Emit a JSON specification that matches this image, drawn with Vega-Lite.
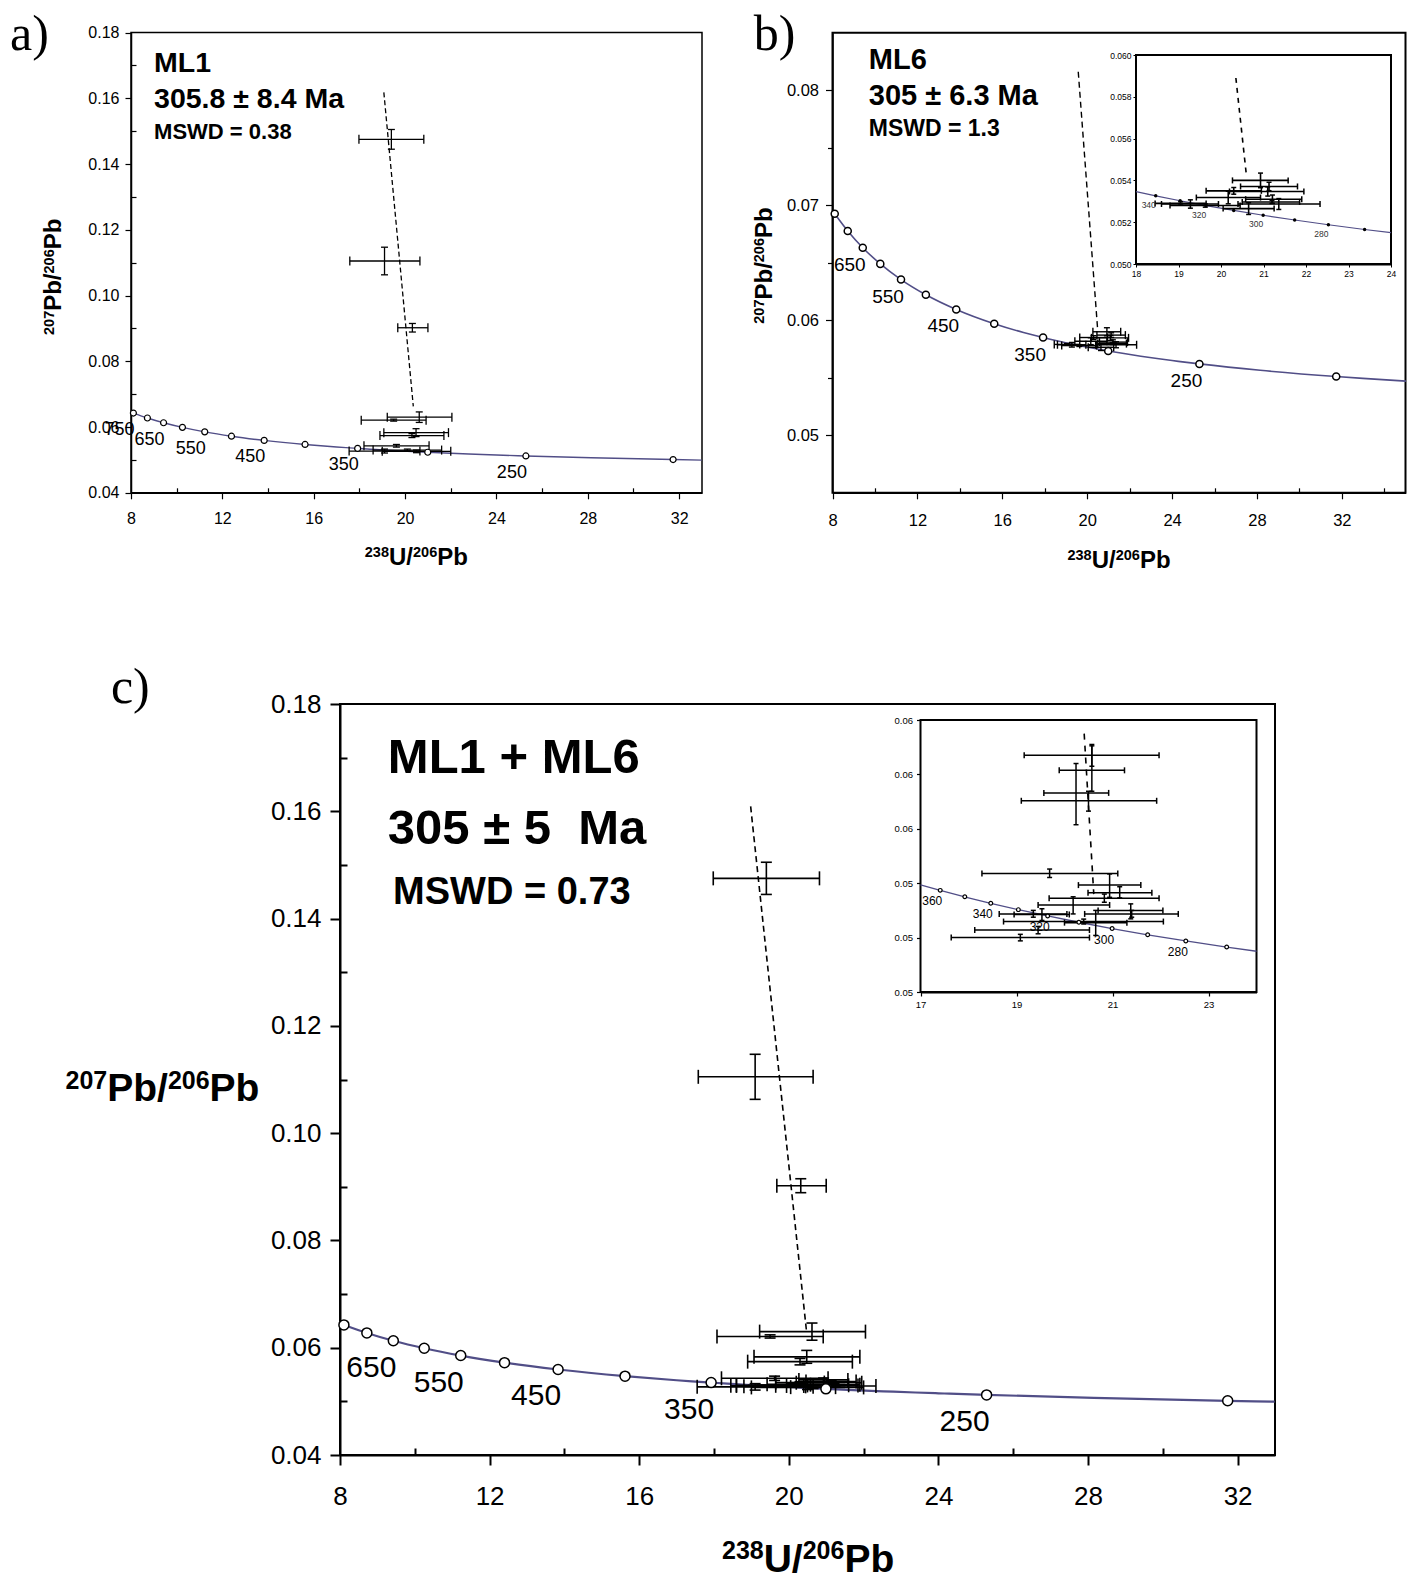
{
"$schema": "https://vega.github.io/schema/vega-lite/v6.json",
"width": 1415, "height": 1580,
"autosize": {"type": "none"},
"padding": 0,
"background": "white",
"config": {
  "view": {"stroke": null},
  "axis": {"grid": false, "domainColor": "black", "tickColor": "black", "labelColor": "black", "titleColor": "black",
           "labelFont": "Liberation Sans", "titleFont": "Liberation Sans", "titleFontWeight": "bold",
           "labelFlush": false, "labelOverlap": false, "labelBound": false}
},
"datasets": {
  "frames": [
    {"p": "a", "x0": 8, "x1": 33, "y0": 0.04, "y1": 0.18},
    {"p": "b", "x0": 8, "x1": 35, "y0": 0.04, "y1": 0.08},
    {"p": "bi", "x0": 18, "x1": 24, "y0": 0.05, "y1": 0.06},
    {"p": "c", "x0": 8, "x1": 33, "y0": 0.04, "y1": 0.18},
    {"p": "ci", "x0": 17, "x1": 24, "y0": 0.05, "y1": 0.06}
  ],
  "conc": [
    {"age": 750, "x": 8.1048, "y": 0.064253},
    {"age": 700, "x": 8.7182, "y": 0.062757},
    {"age": 650, "x": 9.4259, "y": 0.061307},
    {"age": 600, "x": 10.252, "y": 0.059901},
    {"age": 550, "x": 11.228, "y": 0.058539},
    {"age": 500, "x": 12.399, "y": 0.057219},
    {"age": 450, "x": 13.831, "y": 0.055941},
    {"age": 400, "x": 15.621, "y": 0.054700},
    {"age": 368.46, "x": 17.0, "y": 0.053937},
    {"age": 360, "x": 17.411, "y": 0.053737},
    {"age": 350, "x": 17.923, "y": 0.053499},
    {"age": 348.54, "x": 18.0, "y": 0.053464},
    {"age": 340, "x": 18.464, "y": 0.053262},
    {"age": 330, "x": 19.039, "y": 0.053028},
    {"age": 320, "x": 19.649, "y": 0.052795},
    {"age": 310, "x": 20.299, "y": 0.052564},
    {"age": 300, "x": 20.992, "y": 0.052333},
    {"age": 290, "x": 21.733, "y": 0.052104},
    {"age": 280, "x": 22.527, "y": 0.051877},
    {"age": 270, "x": 23.379, "y": 0.051651},
    {"age": 263.16, "x": 24.0, "y": 0.051498},
    {"age": 260, "x": 24.297, "y": 0.051427},
    {"age": 250, "x": 25.289, "y": 0.051205},
    {"age": 225, "x": 28.154, "y": 0.050651},
    {"age": 200, "x": 31.735, "y": 0.050107},
    {"age": 192.5, "x": 32.99, "y": 0.049946},
    {"age": 181.5, "x": 35.02, "y": 0.049711}
  ],
  "disc": [
    {"p": "a", "x": 19.07, "y": 0.1618}, {"p": "a", "x": 20.36, "y": 0.0663},
    {"p": "b", "x": 19.58, "y": 0.0766}, {"p": "b", "x": 20.49, "y": 0.0543},
    {"p": "bi", "x": 20.35, "y": 0.0589}, {"p": "bi", "x": 20.6, "y": 0.0542},
    {"p": "c", "x": 18.98, "y": 0.1609}, {"p": "c", "x": 20.47, "y": 0.0633},
    {"p": "ci", "x": 20.41, "y": 0.0595}, {"p": "ci", "x": 20.61, "y": 0.0536}
  ],
  "ml1": [
    {"x": 19.40, "y": 0.1475, "xlo": 17.98, "xhi": 20.82, "ylo": 0.1445, "yhi": 0.1505},
    {"x": 19.10, "y": 0.1105, "xlo": 17.58, "xhi": 20.65, "ylo": 0.1063, "yhi": 0.1147},
    {"x": 20.32, "y": 0.0902, "xlo": 19.68, "xhi": 21.00, "ylo": 0.0889, "yhi": 0.0915},
    {"x": 20.62, "y": 0.0630, "xlo": 19.22, "xhi": 22.05, "ylo": 0.0614, "yhi": 0.0646},
    {"x": 19.50, "y": 0.0621, "xlo": 18.08, "xhi": 20.92, "ylo": 0.0618, "yhi": 0.0624},
    {"x": 20.48, "y": 0.0583, "xlo": 19.07, "xhi": 21.90, "ylo": 0.0571, "yhi": 0.0595},
    {"x": 20.30, "y": 0.0574, "xlo": 18.90, "xhi": 21.70, "ylo": 0.0568, "yhi": 0.0580},
    {"x": 19.62, "y": 0.0543, "xlo": 18.20, "xhi": 21.05, "ylo": 0.0539, "yhi": 0.0547},
    {"x": 19.10, "y": 0.0527, "xlo": 17.55, "xhi": 20.65, "ylo": 0.0521, "yhi": 0.0533},
    {"x": 20.50, "y": 0.0526, "xlo": 19.00, "xhi": 22.00, "ylo": 0.0522, "yhi": 0.0530},
    {"x": 20.10, "y": 0.0530, "xlo": 18.60, "xhi": 21.60, "ylo": 0.0527, "yhi": 0.0533}
  ],
  "ml6": [
    {"x": 20.93, "y": 0.05400, "xlo": 20.27, "xhi": 21.58, "ylo": 0.05365, "yhi": 0.05435},
    {"x": 21.13, "y": 0.05371, "xlo": 20.46, "xhi": 21.80, "ylo": 0.05351, "yhi": 0.05391},
    {"x": 20.30, "y": 0.05350, "xlo": 19.65, "xhi": 20.95, "ylo": 0.05334, "yhi": 0.05366},
    {"x": 21.10, "y": 0.05347, "xlo": 20.20, "xhi": 21.95, "ylo": 0.05325, "yhi": 0.05369},
    {"x": 20.17, "y": 0.05318, "xlo": 19.42, "xhi": 20.93, "ylo": 0.05288, "yhi": 0.05348},
    {"x": 21.21, "y": 0.05310, "xlo": 20.58, "xhi": 21.90, "ylo": 0.05290, "yhi": 0.05330},
    {"x": 21.20, "y": 0.05297, "xlo": 20.50, "xhi": 21.85, "ylo": 0.05290, "yhi": 0.05304},
    {"x": 21.36, "y": 0.05287, "xlo": 20.40, "xhi": 22.33, "ylo": 0.05261, "yhi": 0.05313},
    {"x": 19.28, "y": 0.05287, "xlo": 18.60, "xhi": 19.94, "ylo": 0.05267, "yhi": 0.05307},
    {"x": 19.63, "y": 0.05280, "xlo": 18.80, "xhi": 20.45, "ylo": 0.05272, "yhi": 0.05288},
    {"x": 20.65, "y": 0.05265, "xlo": 20.05, "xhi": 21.25, "ylo": 0.05237, "yhi": 0.05293},
    {"x": 19.05, "y": 0.05290, "xlo": 18.45, "xhi": 19.65, "ylo": 0.05282, "yhi": 0.05298}
  ],
  "inc": [
    {"x": 20.57, "y": 0.05870, "xlo": 19.16, "xhi": 21.97, "ylo": 0.05830, "yhi": 0.05910},
    {"x": 20.57, "y": 0.05815, "xlo": 19.89, "xhi": 21.25, "ylo": 0.05738, "yhi": 0.05905},
    {"x": 20.24, "y": 0.05732, "xlo": 19.57, "xhi": 20.92, "ylo": 0.05615, "yhi": 0.05840},
    {"x": 20.50, "y": 0.05703, "xlo": 19.10, "xhi": 21.92, "ylo": 0.05665, "yhi": 0.05738},
    {"x": 19.69, "y": 0.05436, "xlo": 18.28, "xhi": 21.11, "ylo": 0.05421, "yhi": 0.05452},
    {"x": 20.94, "y": 0.05393, "xlo": 20.29, "xhi": 21.59, "ylo": 0.05348, "yhi": 0.05434},
    {"x": 21.15, "y": 0.05365, "xlo": 20.49, "xhi": 21.82, "ylo": 0.05346, "yhi": 0.05387},
    {"x": 20.83, "y": 0.05345, "xlo": 19.68, "xhi": 21.97, "ylo": 0.05330, "yhi": 0.05360},
    {"x": 20.18, "y": 0.05320, "xlo": 19.45, "xhi": 20.94, "ylo": 0.05287, "yhi": 0.05350},
    {"x": 21.38, "y": 0.05300, "xlo": 20.70, "xhi": 22.05, "ylo": 0.05269, "yhi": 0.05324},
    {"x": 21.40, "y": 0.05287, "xlo": 20.42, "xhi": 22.37, "ylo": 0.05275, "yhi": 0.05300},
    {"x": 19.35, "y": 0.05287, "xlo": 18.64, "xhi": 20.05, "ylo": 0.05275, "yhi": 0.05300},
    {"x": 19.53, "y": 0.05285, "xlo": 18.95, "xhi": 20.10, "ylo": 0.05263, "yhi": 0.05306},
    {"x": 20.40, "y": 0.05259, "xlo": 18.73, "xhi": 22.06, "ylo": 0.05250, "yhi": 0.05268},
    {"x": 19.45, "y": 0.05228, "xlo": 18.13, "xhi": 20.52, "ylo": 0.05214, "yhi": 0.05241},
    {"x": 19.08, "y": 0.05200, "xlo": 17.64, "xhi": 20.52, "ylo": 0.05188, "yhi": 0.05212},
    {"x": 20.65, "y": 0.05255, "xlo": 20.00, "xhi": 21.30, "ylo": 0.05208, "yhi": 0.05300}
  ],
  "notes": [
    {"p": "a", "k": "letter", "text": "a)", "x": 2.70, "y": 0.1791},
    {"p": "a", "k": "big", "text": "ML1", "x": 9.01, "y": 0.1706},
    {"p": "a", "k": "big", "text": "305.8 ± 8.4 Ma", "x": 9.01, "y": 0.1598},
    {"p": "a", "k": "small", "text": "MSWD = 0.38", "x": 9.01, "y": 0.1497},
    {"p": "b", "k": "letter", "text": "b)", "x": 4.29, "y": 0.07978},
    {"p": "b", "k": "big", "text": "ML6", "x": 9.71, "y": 0.07759},
    {"p": "b", "k": "big", "text": "305 ± 6.3 Ma", "x": 9.71, "y": 0.07452},
    {"p": "b", "k": "small", "text": "MSWD = 1.3", "x": 9.71, "y": 0.07163},
    {"p": "c", "k": "letter", "text": "c)", "x": 1.874, "y": 0.18293},
    {"p": "c", "k": "big", "text": "ML1 + ML6", "x": 9.28, "y": 0.16995},
    {"p": "c", "k": "big", "text": "305 ± 5\u00a0 Ma", "x": 9.28, "y": 0.15662},
    {"p": "c", "k": "small", "text": "MSWD = 0.73", "x": 9.42, "y": 0.14479}
  ],
  "ttl": [
    {"p": "a", "o": "h", "k": "sup", "text": "238", "x": 18.236, "y": 0.020474},
    {"p": "a", "o": "h", "k": "big", "text": "U/", "x": 19.296, "y": 0.018041},
    {"p": "a", "o": "h", "k": "sup", "text": "206", "x": 20.347, "y": 0.020474},
    {"p": "a", "o": "h", "k": "big", "text": "Pb", "x": 21.406, "y": 0.018041},
    {"p": "a", "o": "v", "k": "sup", "text": "207", "x": 4.607, "y": 0.087994},
    {"p": "a", "o": "v", "k": "big", "text": "Pb/", "x": 4.957, "y": 0.095355},
    {"p": "a", "o": "v", "k": "sup", "text": "206", "x": 4.607, "y": 0.106699},
    {"p": "a", "o": "v", "k": "big", "text": "Pb", "x": 4.957, "y": 0.114060},
    {"p": "b", "o": "h", "k": "sup", "text": "238", "x": 19.073, "y": 0.034158},
    {"p": "b", "o": "h", "k": "big", "text": "U/", "x": 20.214, "y": 0.033462},
    {"p": "b", "o": "h", "k": "sup", "text": "206", "x": 21.345, "y": 0.034158},
    {"p": "b", "o": "h", "k": "big", "text": "Pb", "x": 22.485, "y": 0.033462},
    {"p": "b", "o": "v", "k": "sup", "text": "207", "x": 4.772, "y": 0.054701},
    {"p": "b", "o": "v", "k": "big", "text": "Pb/", "x": 5.149, "y": 0.056805},
    {"p": "b", "o": "v", "k": "sup", "text": "206", "x": 4.772, "y": 0.060048},
    {"p": "b", "o": "v", "k": "big", "text": "Pb", "x": 5.149, "y": 0.062152},
    {"p": "c", "o": "h", "k": "sup", "text": "238", "x": 18.214, "y": 0.020612},
    {"p": "c", "o": "h", "k": "big", "text": "U/", "x": 19.329, "y": 0.018189},
    {"p": "c", "o": "h", "k": "sup", "text": "206", "x": 20.372, "y": 0.020612},
    {"p": "c", "o": "h", "k": "big", "text": "Pb", "x": 21.487, "y": 0.018189},
    {"p": "c", "o": "h", "k": "sup", "text": "207", "x": 0.660, "y": 0.108322},
    {"p": "c", "o": "h", "k": "big", "text": "Pb/", "x": 1.775, "y": 0.105899},
    {"p": "c", "o": "h", "k": "sup", "text": "206", "x": 3.398, "y": 0.108322},
    {"p": "c", "o": "h", "k": "big", "text": "Pb", "x": 4.513, "y": 0.105899}
  ]
},
"resolve": {"scale": {"x": "independent", "y": "independent"}, "axis": {"x": "independent", "y": "independent"}},
"layer": [
  {
    "resolve": {"axis": {"x": "independent", "y": "independent"}},
    "layer": [
      {"data": {"name": "frames"}, "transform": [{"filter": "datum.p == 'a'"}],
       "mark": {"type": "rect", "filled": false, "stroke": "black", "strokeWidth": 1.5},
       "encoding": {
         "x": {"field": "x0", "type": "quantitative", "scale": {"domain": [8, 33], "range": [131, 702], "nice": false, "zero": false},
               "axis": {"orient": "bottom", "offset": -1087.2, "values": [8,12,16,20,24,28,32],
                        "tickSize": 6, "tickWidth": 1.2, "domainWidth": 1.5, "labelFontSize": 16, "labelPadding": 12, "title": null}},
         "x2": {"field": "x1"},
         "y": {"field": "y0", "type": "quantitative", "scale": {"domain": [0.04, 0.18], "range": [492.8, 32.5], "nice": false, "zero": false},
               "axis": {"orient": "left", "offset": -131, "values": [0.04,0.06,0.08,0.1,0.12,0.14,0.16,0.18], "format": ".2f",
                        "tickSize": 6, "tickWidth": 1.2, "domainWidth": 1.5, "labelFontSize": 16, "labelPadding": 6, "title": null}},
         "y2": {"field": "y1"}}},
      {"data": {"name": "conc"}, "transform": [{"filter": "datum.age >= 192 && datum.age <= 750"}],
       "mark": {"type": "line", "color": "#514e87", "strokeWidth": 1.4, "interpolate": "monotone"},
       "encoding": {
         "x": {"field": "x", "type": "quantitative",
               "axis": {"orient": "bottom", "offset": -1092.2, "values": [10,14,18,22,26,30], "labels": false, "domain": false, "tickSize": 5, "tickWidth": 1.2, "title": null}},
         "y": {"field": "y", "type": "quantitative",
               "axis": {"orient": "left", "offset": -136, "values": [0.05,0.07,0.09,0.11,0.13,0.15,0.17], "labels": false, "domain": false, "tickSize": 5, "tickWidth": 1.2, "title": null}}}},
      {"data": {"name": "disc"}, "transform": [{"filter": "datum.p == 'a'"}],
       "mark": {"type": "line", "color": "black", "strokeWidth": 1.3, "strokeDash": [5, 3]},
       "encoding": {"x": {"field": "x", "type": "quantitative", "axis": null}, "y": {"field": "y", "type": "quantitative", "axis": null}}},
      {"data": {"name": "ml1"}, "mark": {"type": "rule", "color": "black", "strokeWidth": 1.3},
       "encoding": {"x": {"field": "xlo", "type": "quantitative", "axis": null}, "x2": {"field": "xhi"}, "y": {"field": "y", "type": "quantitative", "axis": null}}},
      {"data": {"name": "ml1"}, "mark": {"type": "rule", "color": "black", "strokeWidth": 1.3},
       "encoding": {"x": {"field": "x", "type": "quantitative", "axis": null}, "y": {"field": "ylo", "type": "quantitative", "axis": null}, "y2": {"field": "yhi"}}},
      {"data": {"name": "ml1"}, "transform": [{"fold": ["xlo", "xhi"], "as": ["k", "v"]}],
       "mark": {"type": "tick", "orient": "vertical", "color": "black", "size": 9, "thickness": 1.3, "opacity": 1},
       "encoding": {"x": {"field": "v", "type": "quantitative", "axis": null}, "y": {"field": "y", "type": "quantitative", "axis": null}}},
      {"data": {"name": "ml1"}, "transform": [{"fold": ["ylo", "yhi"], "as": ["k", "v"]}],
       "mark": {"type": "tick", "orient": "horizontal", "color": "black", "size": 7, "thickness": 1.3, "opacity": 1},
       "encoding": {"x": {"field": "x", "type": "quantitative", "axis": null}, "y": {"field": "v", "type": "quantitative", "axis": null}}},
      {"data": {"name": "conc"}, "transform": [{"filter": "datum.age % 50 == 0 && datum.age >= 200 && datum.age <= 750"}],
       "mark": {"type": "point", "shape": "circle", "filled": true, "fill": "white", "stroke": "black", "strokeWidth": 1.2, "size": 36, "opacity": 1},
       "encoding": {"x": {"field": "x", "type": "quantitative", "axis": null}, "y": {"field": "y", "type": "quantitative", "axis": null}}},
      {"data": {"name": "conc"}, "transform": [{"filter": "datum.age % 100 == 50 && datum.age >= 250 && datum.age <= 750"}],
       "mark": {"type": "text", "font": "Liberation Sans", "fontSize": 18, "dx": -14, "dy": 17, "align": "center", "baseline": "middle", "color": "black"},
       "encoding": {"x": {"field": "x", "type": "quantitative", "axis": null}, "y": {"field": "y", "type": "quantitative", "axis": null}, "text": {"field": "age", "type": "quantitative", "format": "d"}}},
      {"data": {"name": "notes"}, "transform": [{"filter": "datum.p == 'a' && datum.k == 'letter'"}],
       "mark": {"type": "text", "font": "Liberation Serif", "fontSize": 50, "align": "left", "baseline": "middle", "color": "black"},
       "encoding": {"x": {"field": "x", "type": "quantitative", "axis": null}, "y": {"field": "y", "type": "quantitative", "axis": null}, "text": {"field": "text"}}},
      {"data": {"name": "notes"}, "transform": [{"filter": "datum.p == 'a' && datum.k == 'big'"}],
       "mark": {"type": "text", "font": "Liberation Sans", "fontSize": 28.5, "fontWeight": "bold", "align": "left", "baseline": "middle", "color": "black"},
       "encoding": {"x": {"field": "x", "type": "quantitative", "axis": null}, "y": {"field": "y", "type": "quantitative", "axis": null}, "text": {"field": "text"}}},
      {"data": {"name": "notes"}, "transform": [{"filter": "datum.p == 'a' && datum.k == 'small'"}],
       "mark": {"type": "text", "font": "Liberation Sans", "fontSize": 22, "fontWeight": "bold", "align": "left", "baseline": "middle", "color": "black"},
       "encoding": {"x": {"field": "x", "type": "quantitative", "axis": null}, "y": {"field": "y", "type": "quantitative", "axis": null}, "text": {"field": "text"}}},
      {"data": {"name": "ttl"}, "transform": [{"filter": "datum.p == 'a' && datum.o == 'h' && datum.k == 'big'"}],
       "mark": {"type": "text", "font": "Liberation Sans", "fontSize": 24, "fontWeight": "bold", "align": "left", "baseline": "alphabetic", "color": "black"},
       "encoding": {"x": {"field": "x", "type": "quantitative", "axis": null}, "y": {"field": "y", "type": "quantitative", "axis": null}, "text": {"field": "text"}}},
      {"data": {"name": "ttl"}, "transform": [{"filter": "datum.p == 'a' && datum.o == 'h' && datum.k == 'sup'"}],
       "mark": {"type": "text", "font": "Liberation Sans", "fontSize": 14.5, "fontWeight": "bold", "align": "left", "baseline": "alphabetic", "color": "black"},
       "encoding": {"x": {"field": "x", "type": "quantitative", "axis": null}, "y": {"field": "y", "type": "quantitative", "axis": null}, "text": {"field": "text"}}},
      {"data": {"name": "ttl"}, "transform": [{"filter": "datum.p == 'a' && datum.o == 'v' && datum.k == 'big'"}],
       "mark": {"type": "text", "font": "Liberation Sans", "fontSize": 24, "fontWeight": "bold", "align": "left", "baseline": "alphabetic", "angle": 270, "color": "black"},
       "encoding": {"x": {"field": "x", "type": "quantitative", "axis": null}, "y": {"field": "y", "type": "quantitative", "axis": null}, "text": {"field": "text"}}},
      {"data": {"name": "ttl"}, "transform": [{"filter": "datum.p == 'a' && datum.o == 'v' && datum.k == 'sup'"}],
       "mark": {"type": "text", "font": "Liberation Sans", "fontSize": 14.5, "fontWeight": "bold", "align": "left", "baseline": "alphabetic", "angle": 270, "color": "black"},
       "encoding": {"x": {"field": "x", "type": "quantitative", "axis": null}, "y": {"field": "y", "type": "quantitative", "axis": null}, "text": {"field": "text"}}}
    ]
  },
  {
    "resolve": {"axis": {"x": "independent", "y": "independent"}},
    "layer": [
      {"data": {"name": "frames"}, "transform": [{"filter": "datum.p == 'b'"}],
       "mark": {"type": "rect", "filled": false, "stroke": "black", "strokeWidth": 2},
       "encoding": {
         "x": {"field": "x0", "type": "quantitative", "scale": {"domain": [8, 35], "range": [832.5, 1405.5], "nice": false, "zero": false},
               "axis": {"orient": "bottom", "offset": -1087.2, "values": [8,12,16,20,24,28,32],
                        "tickSize": 6, "tickWidth": 1.2, "domainWidth": 1.5, "labelFontSize": 16.5, "labelPadding": 14, "title": null}},
         "x2": {"field": "x1"},
         "y": {"field": "y0", "type": "quantitative", "scale": {"domain": [0.04, 0.08], "range": [492.8, 32.7], "nice": false, "zero": false},
               "axis": {"orient": "left", "offset": -832.5, "values": [0.045,0.055,0.065,0.075],
                        "labelExpr": "format(datum.value + 0.005, '.2f')",
                        "tickSize": 7, "tickWidth": 1.2, "domainWidth": 1.5, "labelFontSize": 16.5, "labelPadding": 7, "title": null}},
         "y2": {"field": "y1"}}},
      {"data": {"name": "conc"}, "transform": [{"filter": "datum.age <= 750"}],
       "mark": {"type": "line", "color": "#514e87", "strokeWidth": 1.6, "interpolate": "monotone"},
       "encoding": {
         "x": {"field": "x", "type": "quantitative",
               "axis": {"orient": "bottom", "offset": -1092.2, "values": [10,14,18,22,26,30,34], "labels": false, "domain": false, "tickSize": 5, "tickWidth": 1.2, "title": null}},
         "y": {"field": "y", "type": "quantitative",
               "axis": {"orient": "left", "offset": -832.5, "values": [0.05,0.06,0.07], "labels": false, "domain": false, "tickSize": 5, "tickWidth": 1.2, "title": null}}}},
      {"data": {"name": "disc"}, "transform": [{"filter": "datum.p == 'b'"}],
       "mark": {"type": "line", "color": "black", "strokeWidth": 1.4, "strokeDash": [6, 4]},
       "encoding": {"x": {"field": "x", "type": "quantitative", "axis": null}, "y": {"field": "y", "type": "quantitative", "axis": null}}},
      {"data": {"name": "ml6"}, "mark": {"type": "rule", "color": "black", "strokeWidth": 1.4},
       "encoding": {"x": {"field": "xlo", "type": "quantitative", "axis": null}, "x2": {"field": "xhi"}, "y": {"field": "y", "type": "quantitative", "axis": null}}},
      {"data": {"name": "ml6"}, "mark": {"type": "rule", "color": "black", "strokeWidth": 1.4},
       "encoding": {"x": {"field": "x", "type": "quantitative", "axis": null}, "y": {"field": "ylo", "type": "quantitative", "axis": null}, "y2": {"field": "yhi"}}},
      {"data": {"name": "ml6"}, "transform": [{"fold": ["xlo", "xhi"], "as": ["k", "v"]}],
       "mark": {"type": "tick", "orient": "vertical", "color": "black", "size": 8, "thickness": 1.4, "opacity": 1},
       "encoding": {"x": {"field": "v", "type": "quantitative", "axis": null}, "y": {"field": "y", "type": "quantitative", "axis": null}}},
      {"data": {"name": "ml6"}, "transform": [{"fold": ["ylo", "yhi"], "as": ["k", "v"]}],
       "mark": {"type": "tick", "orient": "horizontal", "color": "black", "size": 6, "thickness": 1.4, "opacity": 1},
       "encoding": {"x": {"field": "x", "type": "quantitative", "axis": null}, "y": {"field": "v", "type": "quantitative", "axis": null}}},
      {"data": {"name": "conc"}, "transform": [{"filter": "datum.age % 50 == 0 && datum.age >= 200 && datum.age <= 750"}],
       "mark": {"type": "point", "shape": "circle", "filled": true, "fill": "white", "stroke": "black", "strokeWidth": 1.5, "size": 50, "opacity": 1},
       "encoding": {"x": {"field": "x", "type": "quantitative", "axis": null}, "y": {"field": "y", "type": "quantitative", "axis": null}}},
      {"data": {"name": "conc"}, "transform": [{"filter": "datum.age % 100 == 50 && datum.age >= 250 && datum.age <= 650"}],
       "mark": {"type": "text", "font": "Liberation Sans", "fontSize": 19, "dx": -13, "dy": 17, "align": "center", "baseline": "middle", "color": "black"},
       "encoding": {"x": {"field": "x", "type": "quantitative", "axis": null}, "y": {"field": "y", "type": "quantitative", "axis": null}, "text": {"field": "age", "type": "quantitative", "format": "d"}}},
      {"data": {"name": "notes"}, "transform": [{"filter": "datum.p == 'b' && datum.k == 'letter'"}],
       "mark": {"type": "text", "font": "Liberation Serif", "fontSize": 50, "align": "left", "baseline": "middle", "color": "black"},
       "encoding": {"x": {"field": "x", "type": "quantitative", "axis": null}, "y": {"field": "y", "type": "quantitative", "axis": null}, "text": {"field": "text"}}},
      {"data": {"name": "notes"}, "transform": [{"filter": "datum.p == 'b' && datum.k == 'big'"}],
       "mark": {"type": "text", "font": "Liberation Sans", "fontSize": 29, "fontWeight": "bold", "align": "left", "baseline": "middle", "color": "black"},
       "encoding": {"x": {"field": "x", "type": "quantitative", "axis": null}, "y": {"field": "y", "type": "quantitative", "axis": null}, "text": {"field": "text"}}},
      {"data": {"name": "notes"}, "transform": [{"filter": "datum.p == 'b' && datum.k == 'small'"}],
       "mark": {"type": "text", "font": "Liberation Sans", "fontSize": 23, "fontWeight": "bold", "align": "left", "baseline": "middle", "color": "black"},
       "encoding": {"x": {"field": "x", "type": "quantitative", "axis": null}, "y": {"field": "y", "type": "quantitative", "axis": null}, "text": {"field": "text"}}},
      {"data": {"name": "ttl"}, "transform": [{"filter": "datum.p == 'b' && datum.o == 'h' && datum.k == 'big'"}],
       "mark": {"type": "text", "font": "Liberation Sans", "fontSize": 24, "fontWeight": "bold", "align": "left", "baseline": "alphabetic", "color": "black"},
       "encoding": {"x": {"field": "x", "type": "quantitative", "axis": null}, "y": {"field": "y", "type": "quantitative", "axis": null}, "text": {"field": "text"}}},
      {"data": {"name": "ttl"}, "transform": [{"filter": "datum.p == 'b' && datum.o == 'h' && datum.k == 'sup'"}],
       "mark": {"type": "text", "font": "Liberation Sans", "fontSize": 14.5, "fontWeight": "bold", "align": "left", "baseline": "alphabetic", "color": "black"},
       "encoding": {"x": {"field": "x", "type": "quantitative", "axis": null}, "y": {"field": "y", "type": "quantitative", "axis": null}, "text": {"field": "text"}}},
      {"data": {"name": "ttl"}, "transform": [{"filter": "datum.p == 'b' && datum.o == 'v' && datum.k == 'big'"}],
       "mark": {"type": "text", "font": "Liberation Sans", "fontSize": 24, "fontWeight": "bold", "align": "left", "baseline": "alphabetic", "angle": 270, "color": "black"},
       "encoding": {"x": {"field": "x", "type": "quantitative", "axis": null}, "y": {"field": "y", "type": "quantitative", "axis": null}, "text": {"field": "text"}}},
      {"data": {"name": "ttl"}, "transform": [{"filter": "datum.p == 'b' && datum.o == 'v' && datum.k == 'sup'"}],
       "mark": {"type": "text", "font": "Liberation Sans", "fontSize": 14.5, "fontWeight": "bold", "align": "left", "baseline": "alphabetic", "angle": 270, "color": "black"},
       "encoding": {"x": {"field": "x", "type": "quantitative", "axis": null}, "y": {"field": "y", "type": "quantitative", "axis": null}, "text": {"field": "text"}}}
    ]
  },
  {
    "resolve": {"axis": {"x": "independent", "y": "independent"}},
    "layer": [
      {"data": {"name": "frames"}, "transform": [{"filter": "datum.p == 'bi'"}],
       "mark": {"type": "rect", "fill": "white", "stroke": "black", "strokeWidth": 2},
       "encoding": {
         "x": {"field": "x0", "type": "quantitative", "scale": {"domain": [18, 24], "range": [1136, 1391], "nice": false, "zero": false},
               "axis": {"orient": "bottom", "offset": -1316, "values": [18,19,20,21,22,23,24],
                        "tickSize": 3, "tickWidth": 1, "domainWidth": 2, "labelFontSize": 8.5, "labelPadding": 2, "title": null}},
         "x2": {"field": "x1"},
         "y": {"field": "y0", "type": "quantitative", "scale": {"domain": [0.05, 0.06], "range": [264, 55], "nice": false, "zero": false},
               "axis": {"orient": "left", "offset": -1136, "values": [0.05,0.052,0.054,0.056,0.058,0.06], "format": ".3f",
                        "tickSize": 3, "tickWidth": 1, "domainWidth": 2, "labelFontSize": 8.5, "labelPadding": 2, "title": null}},
         "y2": {"field": "y1"}}},
      {"data": {"name": "conc"}, "transform": [{"filter": "datum.x >= 18 && datum.x <= 24"}],
       "mark": {"type": "line", "color": "#514e87", "strokeWidth": 1.2, "interpolate": "monotone"},
       "encoding": {
         "x": {"field": "x", "type": "quantitative",
               "axis": {"orient": "bottom", "offset": -1319, "values": [18.5,19.5,20.5,21.5,22.5,23.5], "labels": false, "domain": false, "tickSize": 3, "tickWidth": 1, "title": null}},
         "y": {"field": "y", "type": "quantitative",
               "axis": {"orient": "left", "offset": -1139, "values": [0.051,0.053,0.055,0.057,0.059], "labels": false, "domain": false, "tickSize": 3, "tickWidth": 1, "title": null}}}},
      {"data": {"name": "disc"}, "transform": [{"filter": "datum.p == 'bi'"}],
       "mark": {"type": "line", "color": "black", "strokeWidth": 1.6, "strokeDash": [5, 5]},
       "encoding": {"x": {"field": "x", "type": "quantitative", "axis": null}, "y": {"field": "y", "type": "quantitative", "axis": null}}},
      {"data": {"name": "ml6"}, "mark": {"type": "rule", "color": "black", "strokeWidth": 1.6},
       "encoding": {"x": {"field": "xlo", "type": "quantitative", "axis": null}, "x2": {"field": "xhi"}, "y": {"field": "y", "type": "quantitative", "axis": null}}},
      {"data": {"name": "ml6"}, "mark": {"type": "rule", "color": "black", "strokeWidth": 1.6},
       "encoding": {"x": {"field": "x", "type": "quantitative", "axis": null}, "y": {"field": "ylo", "type": "quantitative", "axis": null}, "y2": {"field": "yhi"}}},
      {"data": {"name": "ml6"}, "transform": [{"fold": ["xlo", "xhi"], "as": ["k", "v"]}],
       "mark": {"type": "tick", "orient": "vertical", "color": "black", "size": 6, "thickness": 1.5, "opacity": 1},
       "encoding": {"x": {"field": "v", "type": "quantitative", "axis": null}, "y": {"field": "y", "type": "quantitative", "axis": null}}},
      {"data": {"name": "ml6"}, "transform": [{"fold": ["ylo", "yhi"], "as": ["k", "v"]}],
       "mark": {"type": "tick", "orient": "horizontal", "color": "black", "size": 5, "thickness": 1.5, "opacity": 1},
       "encoding": {"x": {"field": "x", "type": "quantitative", "axis": null}, "y": {"field": "v", "type": "quantitative", "axis": null}}},
      {"data": {"name": "conc"}, "transform": [{"filter": "datum.age % 10 == 0 && datum.age >= 270 && datum.age <= 340"}],
       "mark": {"type": "point", "shape": "circle", "filled": true, "color": "black", "size": 12, "opacity": 1},
       "encoding": {"x": {"field": "x", "type": "quantitative", "axis": null}, "y": {"field": "y", "type": "quantitative", "axis": null}}},
      {"data": {"name": "conc"}, "transform": [{"filter": "datum.age % 20 == 0 && datum.age >= 280 && datum.age <= 340"}],
       "mark": {"type": "text", "font": "Liberation Sans", "fontSize": 8.5, "dx": -7, "dy": 9, "align": "center", "baseline": "middle", "color": "#333333"},
       "encoding": {"x": {"field": "x", "type": "quantitative", "axis": null}, "y": {"field": "y", "type": "quantitative", "axis": null}, "text": {"field": "age", "type": "quantitative", "format": "d"}}}
    ]
  },
  {
    "resolve": {"axis": {"x": "independent", "y": "independent"}},
    "layer": [
      {"data": {"name": "frames"}, "transform": [{"filter": "datum.p == 'c'"}],
       "mark": {"type": "rect", "filled": false, "stroke": "black", "strokeWidth": 2},
       "encoding": {
         "x": {"field": "x0", "type": "quantitative", "scale": {"domain": [8, 33], "range": [340, 1275], "nice": false, "zero": false},
               "axis": {"orient": "bottom", "offset": -125, "values": [8,12,16,20,24,28,32],
                        "tickSize": 10, "tickWidth": 2, "domainWidth": 2, "labelFontSize": 26, "labelPadding": 18, "title": null}},
         "x2": {"field": "x1"},
         "y": {"field": "y0", "type": "quantitative", "scale": {"domain": [0.04, 0.18], "range": [1455, 704], "nice": false, "zero": false},
               "axis": {"orient": "left", "offset": -340, "values": [0.04,0.06,0.08,0.1,0.12,0.14,0.16,0.18], "format": ".2f",
                        "tickSize": 10, "tickWidth": 2, "domainWidth": 2, "labelFontSize": 26, "labelPadding": 9, "title": null}},
         "y2": {"field": "y1"}}},
      {"data": {"name": "conc"}, "transform": [{"filter": "datum.age >= 192 && datum.age <= 750"}],
       "mark": {"type": "line", "color": "#514e87", "strokeWidth": 2.2, "interpolate": "monotone"},
       "encoding": {
         "x": {"field": "x", "type": "quantitative",
               "axis": {"orient": "bottom", "offset": -132, "values": [10,14,18,22,26,30], "labels": false, "domain": false, "tickSize": 7, "tickWidth": 2, "title": null}},
         "y": {"field": "y", "type": "quantitative",
               "axis": {"orient": "left", "offset": -347, "values": [0.05,0.07,0.09,0.11,0.13,0.15,0.17], "labels": false, "domain": false, "tickSize": 7, "tickWidth": 2, "title": null}}}},
      {"data": {"name": "disc"}, "transform": [{"filter": "datum.p == 'c'"}],
       "mark": {"type": "line", "color": "black", "strokeWidth": 1.6, "strokeDash": [6, 4]},
       "encoding": {"x": {"field": "x", "type": "quantitative", "axis": null}, "y": {"field": "y", "type": "quantitative", "axis": null}}},
      {"data": {"name": "ml1"}, "mark": {"type": "rule", "color": "black", "strokeWidth": 1.6},
       "encoding": {"x": {"field": "xlo", "type": "quantitative", "axis": null}, "x2": {"field": "xhi"}, "y": {"field": "y", "type": "quantitative", "axis": null}}},
      {"data": {"name": "ml1"}, "mark": {"type": "rule", "color": "black", "strokeWidth": 1.6},
       "encoding": {"x": {"field": "x", "type": "quantitative", "axis": null}, "y": {"field": "ylo", "type": "quantitative", "axis": null}, "y2": {"field": "yhi"}}},
      {"data": {"name": "ml1"}, "transform": [{"fold": ["xlo", "xhi"], "as": ["k", "v"]}],
       "mark": {"type": "tick", "orient": "vertical", "color": "black", "size": 14, "thickness": 1.6, "opacity": 1},
       "encoding": {"x": {"field": "v", "type": "quantitative", "axis": null}, "y": {"field": "y", "type": "quantitative", "axis": null}}},
      {"data": {"name": "ml1"}, "transform": [{"fold": ["ylo", "yhi"], "as": ["k", "v"]}],
       "mark": {"type": "tick", "orient": "horizontal", "color": "black", "size": 11, "thickness": 1.6, "opacity": 1},
       "encoding": {"x": {"field": "x", "type": "quantitative", "axis": null}, "y": {"field": "v", "type": "quantitative", "axis": null}}},
      {"data": {"name": "ml6"}, "mark": {"type": "rule", "color": "black", "strokeWidth": 1.6},
       "encoding": {"x": {"field": "xlo", "type": "quantitative", "axis": null}, "x2": {"field": "xhi"}, "y": {"field": "y", "type": "quantitative", "axis": null}}},
      {"data": {"name": "ml6"}, "mark": {"type": "rule", "color": "black", "strokeWidth": 1.6},
       "encoding": {"x": {"field": "x", "type": "quantitative", "axis": null}, "y": {"field": "ylo", "type": "quantitative", "axis": null}, "y2": {"field": "yhi"}}},
      {"data": {"name": "ml6"}, "transform": [{"fold": ["xlo", "xhi"], "as": ["k", "v"]}],
       "mark": {"type": "tick", "orient": "vertical", "color": "black", "size": 14, "thickness": 1.6, "opacity": 1},
       "encoding": {"x": {"field": "v", "type": "quantitative", "axis": null}, "y": {"field": "y", "type": "quantitative", "axis": null}}},
      {"data": {"name": "ml6"}, "transform": [{"fold": ["ylo", "yhi"], "as": ["k", "v"]}],
       "mark": {"type": "tick", "orient": "horizontal", "color": "black", "size": 11, "thickness": 1.6, "opacity": 1},
       "encoding": {"x": {"field": "x", "type": "quantitative", "axis": null}, "y": {"field": "v", "type": "quantitative", "axis": null}}},
      {"data": {"name": "conc"}, "transform": [{"filter": "datum.age % 50 == 0 && datum.age >= 200 && datum.age <= 750"}],
       "mark": {"type": "point", "shape": "circle", "filled": true, "fill": "white", "stroke": "black", "strokeWidth": 1.5, "size": 100, "opacity": 1},
       "encoding": {"x": {"field": "x", "type": "quantitative", "axis": null}, "y": {"field": "y", "type": "quantitative", "axis": null}}},
      {"data": {"name": "conc"}, "transform": [{"filter": "datum.age % 100 == 50 && datum.age >= 250 && datum.age <= 650"}],
       "mark": {"type": "text", "font": "Liberation Sans", "fontSize": 30, "dx": -22, "dy": 27, "align": "center", "baseline": "middle", "color": "black"},
       "encoding": {"x": {"field": "x", "type": "quantitative", "axis": null}, "y": {"field": "y", "type": "quantitative", "axis": null}, "text": {"field": "age", "type": "quantitative", "format": "d"}}},
      {"data": {"name": "notes"}, "transform": [{"filter": "datum.p == 'c' && datum.k == 'letter'"}],
       "mark": {"type": "text", "font": "Liberation Serif", "fontSize": 50, "align": "left", "baseline": "middle", "color": "black"},
       "encoding": {"x": {"field": "x", "type": "quantitative", "axis": null}, "y": {"field": "y", "type": "quantitative", "axis": null}, "text": {"field": "text"}}},
      {"data": {"name": "notes"}, "transform": [{"filter": "datum.p == 'c' && datum.k == 'big'"}],
       "mark": {"type": "text", "font": "Liberation Sans", "fontSize": 49, "fontWeight": "bold", "align": "left", "baseline": "middle", "color": "black"},
       "encoding": {"x": {"field": "x", "type": "quantitative", "axis": null}, "y": {"field": "y", "type": "quantitative", "axis": null}, "text": {"field": "text"}}},
      {"data": {"name": "notes"}, "transform": [{"filter": "datum.p == 'c' && datum.k == 'small'"}],
       "mark": {"type": "text", "font": "Liberation Sans", "fontSize": 38, "fontWeight": "bold", "align": "left", "baseline": "middle", "color": "black"},
       "encoding": {"x": {"field": "x", "type": "quantitative", "axis": null}, "y": {"field": "y", "type": "quantitative", "axis": null}, "text": {"field": "text"}}},
      {"data": {"name": "ttl"}, "transform": [{"filter": "datum.p == 'c' && datum.k == 'big'"}],
       "mark": {"type": "text", "font": "Liberation Sans", "fontSize": 39, "fontWeight": "bold", "align": "left", "baseline": "alphabetic", "color": "black"},
       "encoding": {"x": {"field": "x", "type": "quantitative", "axis": null}, "y": {"field": "y", "type": "quantitative", "axis": null}, "text": {"field": "text"}}},
      {"data": {"name": "ttl"}, "transform": [{"filter": "datum.p == 'c' && datum.k == 'sup'"}],
       "mark": {"type": "text", "font": "Liberation Sans", "fontSize": 25, "fontWeight": "bold", "align": "left", "baseline": "alphabetic", "color": "black"},
       "encoding": {"x": {"field": "x", "type": "quantitative", "axis": null}, "y": {"field": "y", "type": "quantitative", "axis": null}, "text": {"field": "text"}}}
    ]
  },
  {
    "resolve": {"axis": {"x": "independent", "y": "independent"}},
    "layer": [
      {"data": {"name": "frames"}, "transform": [{"filter": "datum.p == 'ci'"}],
       "mark": {"type": "rect", "fill": "white", "stroke": "black", "strokeWidth": 2},
       "encoding": {
         "x": {"field": "x0", "type": "quantitative", "scale": {"domain": [17, 24], "range": [920.5, 1256.5], "nice": false, "zero": false},
               "axis": {"orient": "bottom", "offset": -588, "values": [17,19,21,23],
                        "tickSize": 4, "tickWidth": 1.2, "domainWidth": 2, "labelFontSize": 9.5, "labelPadding": 3, "title": null}},
         "x2": {"field": "x1"},
         "y": {"field": "y0", "type": "quantitative", "scale": {"domain": [0.05, 0.06], "range": [992, 720], "nice": false, "zero": false},
               "axis": {"orient": "left", "offset": -920.5, "values": [0.05,0.052,0.054,0.056,0.058,0.06], "format": ".2f",
                        "tickSize": 4, "tickWidth": 1.2, "domainWidth": 2, "labelFontSize": 9.5, "labelPadding": 4, "title": null}},
         "y2": {"field": "y1"}}},
      {"data": {"name": "conc"}, "transform": [{"filter": "datum.x >= 17 && datum.x <= 24"}],
       "mark": {"type": "line", "color": "#514e87", "strokeWidth": 1.3, "interpolate": "monotone"},
       "encoding": {
         "x": {"field": "x", "type": "quantitative",
               "axis": {"orient": "bottom", "offset": -592, "values": [18,20,22], "labels": false, "domain": false, "tickSize": 4, "tickWidth": 1.2, "title": null}},
         "y": {"field": "y", "type": "quantitative",
               "axis": {"orient": "left", "offset": -923.5, "values": [0.0504,0.0508,0.0512,0.0516,0.0524,0.0528,0.0532,0.0536,0.0544,0.0548,0.0552,0.0556,0.0564,0.0568,0.0572,0.0576,0.0584,0.0588,0.0592,0.0596], "labels": false, "domain": false, "tickSize": 3, "tickWidth": 1.2, "title": null}}}},
      {"data": {"name": "disc"}, "transform": [{"filter": "datum.p == 'ci'"}],
       "mark": {"type": "line", "color": "black", "strokeWidth": 1.6, "strokeDash": [6, 6]},
       "encoding": {"x": {"field": "x", "type": "quantitative", "axis": null}, "y": {"field": "y", "type": "quantitative", "axis": null}}},
      {"data": {"name": "inc"}, "mark": {"type": "rule", "color": "black", "strokeWidth": 1.5},
       "encoding": {"x": {"field": "xlo", "type": "quantitative", "axis": null}, "x2": {"field": "xhi"}, "y": {"field": "y", "type": "quantitative", "axis": null}}},
      {"data": {"name": "inc"}, "mark": {"type": "rule", "color": "black", "strokeWidth": 1.5},
       "encoding": {"x": {"field": "x", "type": "quantitative", "axis": null}, "y": {"field": "ylo", "type": "quantitative", "axis": null}, "y2": {"field": "yhi"}}},
      {"data": {"name": "inc"}, "transform": [{"fold": ["xlo", "xhi"], "as": ["k", "v"]}],
       "mark": {"type": "tick", "orient": "vertical", "color": "black", "size": 6, "thickness": 1.5, "opacity": 1},
       "encoding": {"x": {"field": "v", "type": "quantitative", "axis": null}, "y": {"field": "y", "type": "quantitative", "axis": null}}},
      {"data": {"name": "inc"}, "transform": [{"fold": ["ylo", "yhi"], "as": ["k", "v"]}],
       "mark": {"type": "tick", "orient": "horizontal", "color": "black", "size": 5, "thickness": 1.5, "opacity": 1},
       "encoding": {"x": {"field": "x", "type": "quantitative", "axis": null}, "y": {"field": "v", "type": "quantitative", "axis": null}}},
      {"data": {"name": "conc"}, "transform": [{"filter": "datum.age % 10 == 0 && datum.age >= 270 && datum.age <= 360"}],
       "mark": {"type": "point", "shape": "circle", "filled": true, "fill": "white", "stroke": "black", "strokeWidth": 1.2, "size": 14, "opacity": 1},
       "encoding": {"x": {"field": "x", "type": "quantitative", "axis": null}, "y": {"field": "y", "type": "quantitative", "axis": null}}},
      {"data": {"name": "conc"}, "transform": [{"filter": "datum.age % 20 == 0 && datum.age >= 280 && datum.age <= 360"}],
       "mark": {"type": "text", "font": "Liberation Sans", "fontSize": 12, "dx": -8, "dy": 11, "align": "center", "baseline": "middle", "color": "black"},
       "encoding": {"x": {"field": "x", "type": "quantitative", "axis": null}, "y": {"field": "y", "type": "quantitative", "axis": null}, "text": {"field": "age", "type": "quantitative", "format": "d"}}}
    ]
  }
]
}
